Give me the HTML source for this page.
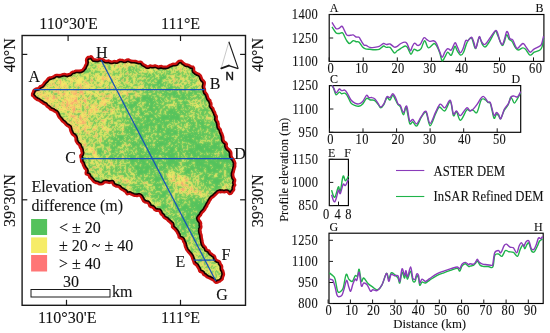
<!DOCTYPE html><html><head><meta charset="utf-8"><style>
html,body{margin:0;padding:0;background:#fff;width:550px;height:333px;overflow:hidden}
svg{display:block;will-change:transform}text{font-family:"Liberation Serif",serif;fill:#111;stroke:#111;stroke-width:0.1px}
</style></head><body>
<svg width="550" height="333" viewBox="0 0 550 333">
<defs>
<filter id="tex" filterUnits="userSpaceOnUse" x="10" y="38" width="250" height="262" color-interpolation-filters="sRGB">
<feGaussianBlur in="SourceGraphic" stdDeviation="4.5" result="bias"/>
<feTurbulence type="fractalNoise" baseFrequency="0.09" numOctaves="2" seed="11" result="lo0"/>
<feTurbulence type="fractalNoise" baseFrequency="0.45" numOctaves="2" seed="4" result="hi0"/>
<feComposite in="lo0" in2="hi0" operator="arithmetic" k1="0" k2="0.25" k3="0.75" k4="0" result="n1"/>
<feColorMatrix in="n1" type="matrix" values="1 0 0 0 0  1 0 0 0 0  1 0 0 0 0  0 0 0 0 1" result="n"/>
<feComposite in="bias" in2="n" operator="arithmetic" k1="0" k2="1" k3="2.4" k4="-1.2" result="s"/>
<feColorMatrix in="s" type="matrix" values="1 0 0 0 0  1 0 0 0 0  1 0 0 0 0  0 0 0 0 1" result="s2"/>
<feComponentTransfer in="s2" result="c">
<feFuncR type="table" tableValues="0.329 0.329 0.329 0.329 0.329 0.539 0.755 0.965 0.965 0.965 0.972 0.979 0.989"/>
<feFuncG type="table" tableValues="0.761 0.761 0.761 0.761 0.761 0.815 0.871 0.925 0.925 0.925 0.833 0.740 0.602"/>
<feFuncB type="table" tableValues="0.361 0.361 0.361 0.361 0.361 0.376 0.392 0.408 0.408 0.408 0.419 0.430 0.446"/>
</feComponentTransfer>
<feGaussianBlur in="c" stdDeviation="0.8" result="cb"/>
<feComposite in="c" in2="cb" operator="arithmetic" k1="0" k2="0.35" k3="0.65" k4="0"/>
</filter>
<clipPath id="mapclip"><polygon points="32.1,93.5 32.9,92.2 33.3,90.8 34.1,89.7 35.3,88.9 36.7,88.4 38.3,88.1 39.1,87.2 40.0,86.2 41.2,85.8 42.3,85.1 43.1,84.1 43.9,83.0 44.7,81.9 45.7,81.0 46.7,80.0 47.5,79.0 48.3,78.0 49.5,77.5 50.9,77.3 52.4,76.8 53.8,76.2 55.1,75.3 56.4,74.8 57.7,74.9 59.0,75.2 60.2,75.0 61.6,74.5 62.9,74.1 64.5,73.9 66.2,74.3 67.0,74.7 68.4,74.1 70.0,73.8 71.2,72.5 72.6,71.6 74.3,71.3 75.9,70.6 77.6,70.6 79.3,70.7 80.9,70.5 82.5,69.8 83.4,68.5 84.3,67.6 84.7,66.4 85.3,65.1 86.0,64.0 86.3,62.3 86.0,60.4 86.2,59.1 86.8,58.1 88.0,56.9 89.5,57.0 90.8,56.2 91.9,56.5 92.7,58.1 93.9,59.4 95.1,59.3 96.3,59.6 97.5,59.7 98.8,59.1 100.2,59.0 101.7,58.8 103.2,59.3 104.5,60.2 105.9,60.9 107.3,60.8 108.7,60.4 110.0,61.2 111.3,61.6 112.8,61.3 114.0,61.0 115.2,61.1 116.6,61.4 117.7,60.8 118.7,60.0 119.9,59.6 121.1,59.8 122.4,59.9 123.5,60.3 125.1,60.6 126.6,59.7 128.3,59.3 129.8,60.1 131.3,60.7 132.9,60.9 134.5,60.9 136.0,61.0 137.5,61.5 138.9,61.9 140.4,61.7 141.7,62.1 143.1,63.9 144.5,64.7 145.9,65.5 147.0,66.3 148.2,66.4 149.5,65.7 150.7,65.5 151.9,65.9 153.1,65.8 154.3,65.5 155.7,65.5 157.2,66.1 158.6,66.7 160.1,66.2 161.6,66.0 163.0,66.7 164.5,66.7 166.0,66.7 167.5,66.4 168.8,65.5 170.1,64.9 171.5,64.4 172.9,63.7 174.6,63.8 176.3,63.5 177.5,62.1 178.8,60.8 181.2,60.7 182.5,61.7 183.4,62.7 184.8,63.6 186.1,64.5 187.3,64.5 188.5,64.8 189.7,65.5 191.1,66.3 193.3,66.7 194.1,68.1 194.1,69.9 194.4,71.3 195.6,72.1 196.2,72.8 197.6,73.4 199.0,73.9 200.1,74.8 201.0,75.9 201.4,77.1 201.8,78.3 202.4,79.5 203.7,80.7 204.8,82.2 204.8,83.7 204.5,85.2 204.2,86.6 204.6,88.1 205.0,89.4 205.0,90.8 205.3,92.1 206.2,93.1 207.2,94.4 207.7,96.0 208.4,98.2 209.2,99.3 210.3,100.2 210.7,101.6 211.2,102.8 211.5,104.1 211.3,105.7 212.0,107.0 213.2,108.1 213.7,109.5 214.2,110.8 215.0,112.1 215.5,113.6 216.1,115.0 216.8,116.3 216.8,117.8 216.6,119.3 217.3,120.6 218.2,121.9 218.4,123.3 218.7,124.5 218.8,125.9 219.0,127.1 219.7,128.2 220.7,129.2 221.0,130.5 221.3,131.8 222.1,133.2 222.6,134.7 223.1,136.1 223.4,137.5 223.4,139.0 223.7,140.5 224.6,141.7 226.2,142.7 226.9,144.0 226.6,145.9 227.1,147.4 228.2,148.6 229.3,149.5 230.3,150.5 231.1,151.8 231.4,153.1 231.4,154.6 231.5,156.0 232.0,157.2 232.8,158.2 233.6,159.1 234.3,160.4 234.9,161.8 235.4,163.2 235.2,164.9 235.3,166.5 234.8,167.8 234.5,169.2 234.1,170.5 233.8,172.0 233.3,173.4 233.2,175.1 233.5,176.3 233.7,177.5 234.5,178.7 235.2,179.9 235.1,181.2 234.6,182.5 234.9,183.7 235.3,185.1 234.4,186.5 234.0,187.9 234.2,189.7 233.6,190.7 232.7,191.6 232.1,192.8 230.9,193.8 229.2,194.1 228.2,192.8 227.2,191.9 225.9,191.9 224.4,192.3 223.1,192.1 222.0,191.9 220.5,192.4 219.9,191.8 218.3,192.3 217.3,193.3 216.3,194.3 215.2,195.2 214.2,196.3 213.0,197.2 211.7,198.0 211.0,199.2 210.2,200.3 209.5,201.5 209.0,202.7 208.2,203.8 207.5,205.0 207.2,206.2 206.4,207.2 205.7,208.4 205.2,209.6 204.4,210.6 203.4,211.7 202.3,212.7 201.5,213.9 200.9,215.3 199.7,216.5 198.6,218.2 199.0,219.6 199.8,220.7 200.7,222.0 201.2,223.4 201.0,224.9 201.4,226.3 201.3,227.7 200.6,229.0 200.5,230.5 200.6,231.8 200.9,233.2 201.5,234.6 201.7,236.0 201.8,237.5 202.2,239.2 202.4,240.8 202.7,242.2 203.0,243.6 203.6,244.9 204.3,246.0 205.4,246.7 206.1,248.0 206.5,249.4 207.8,250.0 209.2,250.6 209.9,252.1 210.8,253.2 212.1,254.0 213.0,254.9 214.3,255.5 215.1,256.6 215.4,257.9 216.0,259.4 217.3,260.4 219.2,261.0 220.1,262.0 220.4,263.3 221.1,264.4 221.9,265.5 222.2,266.8 222.1,268.2 222.3,269.5 223.1,270.3 223.5,271.8 223.9,273.3 224.0,274.8 223.4,276.3 222.9,277.7 222.7,279.2 221.7,280.1 220.6,280.9 220.0,281.6 218.4,281.9 217.6,282.7 215.8,282.8 214.6,282.1 213.9,280.7 212.6,279.9 211.2,279.4 210.0,278.6 208.6,278.0 207.3,277.5 206.0,276.6 205.2,275.7 204.1,275.2 203.1,274.5 202.6,273.2 201.6,272.4 200.1,272.0 199.2,270.9 198.8,269.5 198.1,268.1 197.3,266.8 196.5,265.5 195.3,264.5 194.0,263.6 193.5,262.2 193.1,260.7 192.5,259.5 192.1,258.1 191.6,256.7 190.8,255.4 190.0,254.3 189.1,253.3 188.2,252.3 187.5,251.3 186.6,250.3 186.0,249.2 185.6,248.1 185.1,247.0 184.8,246.0 184.5,244.4 184.0,242.9 183.2,241.7 182.9,240.4 182.3,239.2 181.2,238.5 179.7,238.1 178.7,237.3 178.5,235.9 178.1,234.7 177.4,233.5 176.8,232.2 176.0,231.0 175.1,229.9 174.1,228.9 173.0,228.0 172.0,226.9 172.1,225.4 171.8,224.0 170.7,223.3 169.9,222.3 168.9,221.5 167.9,220.8 166.9,219.6 165.6,218.8 164.3,218.1 163.3,216.9 162.6,215.7 161.6,214.8 160.6,213.9 160.1,212.4 159.3,211.0 158.0,210.8 156.5,210.8 155.3,210.4 154.3,209.7 153.7,208.5 152.5,207.5 150.8,207.1 149.4,206.2 148.8,204.4 147.8,203.0 146.4,202.7 144.8,202.3 143.4,201.3 142.5,199.8 141.7,198.2 140.8,196.6 139.6,195.7 138.2,195.7 137.0,196.2 135.7,195.9 134.5,195.9 133.3,195.4 132.2,194.9 131.1,194.5 130.0,193.8 128.7,193.9 127.0,194.3 126.1,193.1 125.3,191.7 124.1,191.1 123.1,190.3 121.9,189.7 120.4,188.8 119.1,187.2 117.6,186.7 116.0,186.6 114.9,185.9 113.6,185.3 112.8,184.0 112.2,182.4 110.7,182.6 109.2,183.0 108.0,182.7 106.7,182.3 105.4,182.2 104.3,182.6 103.2,183.6 102.1,184.1 100.9,184.4 99.5,184.4 98.7,184.1 97.4,183.2 96.1,183.1 94.7,182.5 93.5,181.7 92.6,180.7 91.6,179.5 90.5,178.4 89.4,177.5 88.9,176.3 88.4,175.1 87.0,174.7 85.8,174.2 85.6,172.7 86.2,171.0 85.8,169.6 84.6,168.4 83.9,167.1 83.4,166.0 82.9,164.9 82.6,163.7 81.9,162.6 81.1,161.5 81.0,160.0 80.9,158.5 80.4,157.2 80.3,155.5 81.5,154.2 81.9,152.8 81.4,151.3 81.3,150.0 80.9,148.7 80.1,147.7 79.6,146.5 79.3,145.2 78.2,144.4 77.2,143.5 76.6,142.4 75.9,141.3 75.5,140.0 75.5,138.4 75.1,137.0 74.2,135.9 72.9,135.1 71.8,134.0 71.1,132.5 70.4,131.0 70.0,129.3 69.6,127.5 68.3,126.5 66.8,125.7 65.6,124.7 64.7,123.4 63.5,122.3 62.1,121.4 61.2,120.1 60.2,118.8 59.0,117.6 58.2,116.4 57.5,114.8 56.8,113.1 55.9,112.2 54.8,111.7 53.7,111.0 52.7,110.3 51.4,109.9 50.2,109.5 49.3,108.3 48.3,107.5 46.8,106.6 45.8,105.2 44.9,104.3 43.5,104.0 42.7,103.2 41.3,102.3 39.9,101.4 38.4,100.4 36.8,99.8 35.4,98.8 34.2,97.7 33.2,96.4 32.0,95.5"/></clipPath>
</defs>
<rect x="22.1" y="35.5" width="223.4" height="269.8" fill="none" stroke="#1a1a1a" stroke-width="1.4"/>
<line x1="68.1" y1="35.5" x2="68.1" y2="41" stroke="#1a1a1a" stroke-width="1.2"/>
<line x1="180.5" y1="35.5" x2="180.5" y2="41" stroke="#1a1a1a" stroke-width="1.2"/>
<line x1="66.5" y1="305.3" x2="66.5" y2="299.8" stroke="#1a1a1a" stroke-width="1.2"/>
<line x1="180.5" y1="305.3" x2="180.5" y2="299.8" stroke="#1a1a1a" stroke-width="1.2"/>
<line x1="22.1" y1="54.4" x2="27.3" y2="54.4" stroke="#1a1a1a" stroke-width="1.2"/>
<line x1="245.5" y1="54.4" x2="240.1" y2="54.4" stroke="#1a1a1a" stroke-width="1.2"/>
<line x1="22.1" y1="199.8" x2="27.3" y2="199.8" stroke="#1a1a1a" stroke-width="1.2"/>
<line x1="245.5" y1="199.8" x2="240.1" y2="199.8" stroke="#1a1a1a" stroke-width="1.2"/>
<text x="68.5" y="29" font-size="16" text-anchor="middle" >110°30'E</text>
<text x="180.6" y="29" font-size="16" text-anchor="middle" >111°E</text>
<text x="67.2" y="323.2" font-size="16" text-anchor="middle" >110°30'E</text>
<text x="180.6" y="323.2" font-size="16" text-anchor="middle" >111°E</text>
<text transform="translate(15,55.3) rotate(-90)" font-size="16" text-anchor="middle">40°N</text>
<text transform="translate(15,200.5) rotate(-90)" font-size="16" text-anchor="middle">39°30'N</text>
<text transform="translate(263.2,55) rotate(-90)" font-size="16" text-anchor="middle">40°N</text>
<text transform="translate(263.2,200.8) rotate(-90)" font-size="16" text-anchor="middle">39°30'N</text>
<g>
<g clip-path="url(#mapclip)">
<g filter="url(#tex)">
<rect x="0" y="30" width="270" height="290" fill="rgb(69,69,69)"/>
<polygon points="90.0,55.0 110.0,55.0 110.0,75.0 90.0,75.0" fill="rgb(156,156,156)"/>
<polygon points="110.0,55.0 130.0,55.0 130.0,75.0 110.0,75.0" fill="rgb(147,147,147)"/>
<polygon points="30.0,75.0 50.0,75.0 50.0,95.0 30.0,95.0" fill="rgb(178,178,178)"/>
<polygon points="50.0,75.0 70.0,75.0 70.0,95.0 50.0,95.0" fill="rgb(178,178,178)"/>
<polygon points="70.0,75.0 90.0,75.0 90.0,95.0 70.0,95.0" fill="rgb(176,176,176)"/>
<polygon points="90.0,75.0 110.0,75.0 110.0,95.0 90.0,95.0" fill="rgb(158,158,158)"/>
<polygon points="110.0,75.0 130.0,75.0 130.0,95.0 110.0,95.0" fill="rgb(135,135,135)"/>
<polygon points="30.0,95.0 50.0,95.0 50.0,115.0 30.0,115.0" fill="rgb(178,178,178)"/>
<polygon points="50.0,95.0 70.0,95.0 70.0,115.0 50.0,115.0" fill="rgb(178,178,178)"/>
<polygon points="70.0,95.0 90.0,95.0 90.0,115.0 70.0,115.0" fill="rgb(178,178,178)"/>
<polygon points="90.0,95.0 110.0,95.0 110.0,115.0 90.0,115.0" fill="rgb(153,153,153)"/>
<polygon points="110.0,95.0 130.0,95.0 130.0,115.0 110.0,115.0" fill="rgb(120,120,120)"/>
<polygon points="50.0,115.0 70.0,115.0 70.0,135.0 50.0,135.0" fill="rgb(178,178,178)"/>
<polygon points="70.0,115.0 90.0,115.0 90.0,135.0 70.0,135.0" fill="rgb(168,168,168)"/>
<polygon points="90.0,115.0 110.0,115.0 110.0,135.0 90.0,135.0" fill="rgb(135,135,135)"/>
<polygon points="110.0,115.0 130.0,115.0 130.0,135.0 110.0,135.0" fill="rgb(102,102,102)"/>
<polygon points="70.0,135.0 90.0,135.0 90.0,155.0 70.0,155.0" fill="rgb(150,150,150)"/>
<polygon points="90.0,135.0 110.0,135.0 110.0,155.0 90.0,155.0" fill="rgb(109,109,109)"/>
<polygon points="110.0,135.0 130.0,135.0 130.0,155.0 110.0,155.0" fill="rgb(76,76,76)"/>
<polygon points="130.0,55.0 150.0,55.0 150.0,75.0 130.0,75.0" fill="rgb(135,135,135)"/>
<polygon points="150.0,55.0 170.0,55.0 170.0,75.0 150.0,75.0" fill="rgb(132,132,132)"/>
<polygon points="170.0,55.0 190.0,55.0 190.0,75.0 170.0,75.0" fill="rgb(139,139,139)"/>
<polygon points="190.0,55.0 210.0,55.0 210.0,75.0 190.0,75.0" fill="rgb(147,147,147)"/>
<polygon points="130.0,75.0 150.0,75.0 150.0,95.0 130.0,95.0" fill="rgb(109,109,109)"/>
<polygon points="150.0,75.0 170.0,75.0 170.0,95.0 150.0,95.0" fill="rgb(88,88,88)"/>
<polygon points="170.0,75.0 190.0,75.0 190.0,95.0 170.0,95.0" fill="rgb(102,102,102)"/>
<polygon points="190.0,75.0 210.0,75.0 210.0,95.0 190.0,95.0" fill="rgb(135,135,135)"/>
<polygon points="130.0,95.0 150.0,95.0 150.0,115.0 130.0,115.0" fill="rgb(75,75,75)"/>
<polygon points="150.0,95.0 170.0,95.0 170.0,115.0 150.0,115.0" fill="rgb(71,71,71)"/>
<polygon points="170.0,95.0 190.0,95.0 190.0,115.0 170.0,115.0" fill="rgb(75,75,75)"/>
<polygon points="190.0,95.0 210.0,95.0 210.0,115.0 190.0,115.0" fill="rgb(98,98,98)"/>
<polygon points="210.0,95.0 230.0,95.0 230.0,115.0 210.0,115.0" fill="rgb(116,116,116)"/>
<polygon points="130.0,115.0 150.0,115.0 150.0,135.0 130.0,135.0" fill="rgb(67,67,67)"/>
<polygon points="150.0,115.0 170.0,115.0 170.0,135.0 150.0,135.0" fill="rgb(67,67,67)"/>
<polygon points="170.0,115.0 190.0,115.0 190.0,135.0 170.0,135.0" fill="rgb(67,67,67)"/>
<polygon points="190.0,115.0 210.0,115.0 210.0,135.0 190.0,135.0" fill="rgb(76,76,76)"/>
<polygon points="210.0,115.0 230.0,115.0 230.0,135.0 210.0,135.0" fill="rgb(88,88,88)"/>
<polygon points="130.0,135.0 150.0,135.0 150.0,155.0 130.0,155.0" fill="rgb(67,67,67)"/>
<polygon points="150.0,135.0 170.0,135.0 170.0,155.0 150.0,155.0" fill="rgb(64,64,64)"/>
<polygon points="170.0,135.0 190.0,135.0 190.0,155.0 170.0,155.0" fill="rgb(64,64,64)"/>
<polygon points="190.0,135.0 210.0,135.0 210.0,155.0 190.0,155.0" fill="rgb(67,67,67)"/>
<polygon points="210.0,135.0 230.0,135.0 230.0,155.0 210.0,155.0" fill="rgb(78,78,78)"/>
<polygon points="70.0,155.0 90.0,155.0 90.0,175.0 70.0,175.0" fill="rgb(132,132,132)"/>
<polygon points="90.0,155.0 110.0,155.0 110.0,175.0 90.0,175.0" fill="rgb(124,124,124)"/>
<polygon points="110.0,155.0 130.0,155.0 130.0,175.0 110.0,175.0" fill="rgb(105,105,105)"/>
<polygon points="130.0,155.0 150.0,155.0 150.0,175.0 130.0,175.0" fill="rgb(76,76,76)"/>
<polygon points="150.0,155.0 170.0,155.0 170.0,175.0 150.0,175.0" fill="rgb(38,38,38)"/>
<polygon points="170.0,155.0 190.0,155.0 190.0,175.0 170.0,175.0" fill="rgb(56,56,56)"/>
<polygon points="190.0,155.0 210.0,155.0 210.0,175.0 190.0,175.0" fill="rgb(48,48,48)"/>
<polygon points="210.0,155.0 230.0,155.0 230.0,175.0 210.0,175.0" fill="rgb(54,54,54)"/>
<polygon points="230.0,155.0 250.0,155.0 250.0,175.0 230.0,175.0" fill="rgb(71,71,71)"/>
<polygon points="90.0,175.0 110.0,175.0 110.0,195.0 90.0,195.0" fill="rgb(129,129,129)"/>
<polygon points="110.0,175.0 130.0,175.0 130.0,195.0 110.0,195.0" fill="rgb(120,120,120)"/>
<polygon points="130.0,175.0 150.0,175.0 150.0,195.0 130.0,195.0" fill="rgb(102,102,102)"/>
<polygon points="150.0,175.0 170.0,175.0 170.0,195.0 150.0,195.0" fill="rgb(76,76,76)"/>
<polygon points="170.0,175.0 190.0,175.0 190.0,195.0 170.0,195.0" fill="rgb(116,116,116)"/>
<polygon points="190.0,175.0 210.0,175.0 210.0,195.0 190.0,195.0" fill="rgb(116,116,116)"/>
<polygon points="210.0,175.0 230.0,175.0 230.0,195.0 210.0,195.0" fill="rgb(76,76,76)"/>
<polygon points="230.0,175.0 250.0,175.0 250.0,195.0 230.0,195.0" fill="rgb(93,93,93)"/>
<polygon points="130.0,195.0 150.0,195.0 150.0,215.0 130.0,215.0" fill="rgb(109,109,109)"/>
<polygon points="150.0,195.0 170.0,195.0 170.0,215.0 150.0,215.0" fill="rgb(102,102,102)"/>
<polygon points="170.0,195.0 190.0,195.0 190.0,215.0 170.0,215.0" fill="rgb(93,93,93)"/>
<polygon points="190.0,195.0 210.0,195.0 210.0,215.0 190.0,215.0" fill="rgb(76,76,76)"/>
<polygon points="210.0,195.0 230.0,195.0 230.0,215.0 210.0,215.0" fill="rgb(93,93,93)"/>
<polygon points="150.0,215.0 170.0,215.0 170.0,235.0 150.0,235.0" fill="rgb(124,124,124)"/>
<polygon points="170.0,215.0 190.0,215.0 190.0,235.0 170.0,235.0" fill="rgb(93,93,93)"/>
<polygon points="190.0,215.0 210.0,215.0 210.0,235.0 190.0,235.0" fill="rgb(48,48,48)"/>
<polygon points="170.0,235.0 190.0,235.0 190.0,255.0 170.0,255.0" fill="rgb(132,132,132)"/>
<polygon points="190.0,235.0 210.0,235.0 210.0,255.0 190.0,255.0" fill="rgb(102,102,102)"/>
<polygon points="190.0,255.0 210.0,255.0 210.0,275.0 190.0,275.0" fill="rgb(139,139,139)"/>
<polygon points="210.0,255.0 230.0,255.0 230.0,275.0 210.0,275.0" fill="rgb(132,132,132)"/>
<polygon points="190.0,275.0 210.0,275.0 210.0,295.0 190.0,295.0" fill="rgb(147,147,147)"/>
<polygon points="210.0,275.0 230.0,275.0 230.0,295.0 210.0,295.0" fill="rgb(147,147,147)"/>
<ellipse cx="183" cy="182" rx="22" ry="8" transform="rotate(38 183 182)" fill="rgb(168,168,168)"/>
<ellipse cx="212" cy="165" rx="18" ry="7" transform="rotate(0 212 165)" fill="rgb(31,31,31)"/>
<ellipse cx="196" cy="207" rx="12" ry="5" transform="rotate(0 196 207)" fill="rgb(43,43,43)"/>
<ellipse cx="153" cy="157" rx="12" ry="6" transform="rotate(0 153 157)" fill="rgb(23,23,23)"/>
<ellipse cx="115" cy="175" rx="18" ry="7" transform="rotate(15 115 175)" fill="rgb(135,135,135)"/>
<ellipse cx="60" cy="90" rx="22" ry="10" transform="rotate(-25 60 90)" fill="rgb(178,178,178)"/>
<ellipse cx="193" cy="212" rx="9" ry="14" transform="rotate(10 193 212)" fill="rgb(27,27,27)"/>
<ellipse cx="227" cy="185" rx="6" ry="6" transform="rotate(0 227 185)" fill="rgb(168,168,168)"/>
</g>
</g>
<polygon points="32.1,93.5 32.9,92.2 33.3,90.8 34.1,89.7 35.3,88.9 36.7,88.4 38.3,88.1 39.1,87.2 40.0,86.2 41.2,85.8 42.3,85.1 43.1,84.1 43.9,83.0 44.7,81.9 45.7,81.0 46.7,80.0 47.5,79.0 48.3,78.0 49.5,77.5 50.9,77.3 52.4,76.8 53.8,76.2 55.1,75.3 56.4,74.8 57.7,74.9 59.0,75.2 60.2,75.0 61.6,74.5 62.9,74.1 64.5,73.9 66.2,74.3 67.0,74.7 68.4,74.1 70.0,73.8 71.2,72.5 72.6,71.6 74.3,71.3 75.9,70.6 77.6,70.6 79.3,70.7 80.9,70.5 82.5,69.8 83.4,68.5 84.3,67.6 84.7,66.4 85.3,65.1 86.0,64.0 86.3,62.3 86.0,60.4 86.2,59.1 86.8,58.1 88.0,56.9 89.5,57.0 90.8,56.2 91.9,56.5 92.7,58.1 93.9,59.4 95.1,59.3 96.3,59.6 97.5,59.7 98.8,59.1 100.2,59.0 101.7,58.8 103.2,59.3 104.5,60.2 105.9,60.9 107.3,60.8 108.7,60.4 110.0,61.2 111.3,61.6 112.8,61.3 114.0,61.0 115.2,61.1 116.6,61.4 117.7,60.8 118.7,60.0 119.9,59.6 121.1,59.8 122.4,59.9 123.5,60.3 125.1,60.6 126.6,59.7 128.3,59.3 129.8,60.1 131.3,60.7 132.9,60.9 134.5,60.9 136.0,61.0 137.5,61.5 138.9,61.9 140.4,61.7 141.7,62.1 143.1,63.9 144.5,64.7 145.9,65.5 147.0,66.3 148.2,66.4 149.5,65.7 150.7,65.5 151.9,65.9 153.1,65.8 154.3,65.5 155.7,65.5 157.2,66.1 158.6,66.7 160.1,66.2 161.6,66.0 163.0,66.7 164.5,66.7 166.0,66.7 167.5,66.4 168.8,65.5 170.1,64.9 171.5,64.4 172.9,63.7 174.6,63.8 176.3,63.5 177.5,62.1 178.8,60.8 181.2,60.7 182.5,61.7 183.4,62.7 184.8,63.6 186.1,64.5 187.3,64.5 188.5,64.8 189.7,65.5 191.1,66.3 193.3,66.7 194.1,68.1 194.1,69.9 194.4,71.3 195.6,72.1 196.2,72.8 197.6,73.4 199.0,73.9 200.1,74.8 201.0,75.9 201.4,77.1 201.8,78.3 202.4,79.5 203.7,80.7 204.8,82.2 204.8,83.7 204.5,85.2 204.2,86.6 204.6,88.1 205.0,89.4 205.0,90.8 205.3,92.1 206.2,93.1 207.2,94.4 207.7,96.0 208.4,98.2 209.2,99.3 210.3,100.2 210.7,101.6 211.2,102.8 211.5,104.1 211.3,105.7 212.0,107.0 213.2,108.1 213.7,109.5 214.2,110.8 215.0,112.1 215.5,113.6 216.1,115.0 216.8,116.3 216.8,117.8 216.6,119.3 217.3,120.6 218.2,121.9 218.4,123.3 218.7,124.5 218.8,125.9 219.0,127.1 219.7,128.2 220.7,129.2 221.0,130.5 221.3,131.8 222.1,133.2 222.6,134.7 223.1,136.1 223.4,137.5 223.4,139.0 223.7,140.5 224.6,141.7 226.2,142.7 226.9,144.0 226.6,145.9 227.1,147.4 228.2,148.6 229.3,149.5 230.3,150.5 231.1,151.8 231.4,153.1 231.4,154.6 231.5,156.0 232.0,157.2 232.8,158.2 233.6,159.1 234.3,160.4 234.9,161.8 235.4,163.2 235.2,164.9 235.3,166.5 234.8,167.8 234.5,169.2 234.1,170.5 233.8,172.0 233.3,173.4 233.2,175.1 233.5,176.3 233.7,177.5 234.5,178.7 235.2,179.9 235.1,181.2 234.6,182.5 234.9,183.7 235.3,185.1 234.4,186.5 234.0,187.9 234.2,189.7 233.6,190.7 232.7,191.6 232.1,192.8 230.9,193.8 229.2,194.1 228.2,192.8 227.2,191.9 225.9,191.9 224.4,192.3 223.1,192.1 222.0,191.9 220.5,192.4 219.9,191.8 218.3,192.3 217.3,193.3 216.3,194.3 215.2,195.2 214.2,196.3 213.0,197.2 211.7,198.0 211.0,199.2 210.2,200.3 209.5,201.5 209.0,202.7 208.2,203.8 207.5,205.0 207.2,206.2 206.4,207.2 205.7,208.4 205.2,209.6 204.4,210.6 203.4,211.7 202.3,212.7 201.5,213.9 200.9,215.3 199.7,216.5 198.6,218.2 199.0,219.6 199.8,220.7 200.7,222.0 201.2,223.4 201.0,224.9 201.4,226.3 201.3,227.7 200.6,229.0 200.5,230.5 200.6,231.8 200.9,233.2 201.5,234.6 201.7,236.0 201.8,237.5 202.2,239.2 202.4,240.8 202.7,242.2 203.0,243.6 203.6,244.9 204.3,246.0 205.4,246.7 206.1,248.0 206.5,249.4 207.8,250.0 209.2,250.6 209.9,252.1 210.8,253.2 212.1,254.0 213.0,254.9 214.3,255.5 215.1,256.6 215.4,257.9 216.0,259.4 217.3,260.4 219.2,261.0 220.1,262.0 220.4,263.3 221.1,264.4 221.9,265.5 222.2,266.8 222.1,268.2 222.3,269.5 223.1,270.3 223.5,271.8 223.9,273.3 224.0,274.8 223.4,276.3 222.9,277.7 222.7,279.2 221.7,280.1 220.6,280.9 220.0,281.6 218.4,281.9 217.6,282.7 215.8,282.8 214.6,282.1 213.9,280.7 212.6,279.9 211.2,279.4 210.0,278.6 208.6,278.0 207.3,277.5 206.0,276.6 205.2,275.7 204.1,275.2 203.1,274.5 202.6,273.2 201.6,272.4 200.1,272.0 199.2,270.9 198.8,269.5 198.1,268.1 197.3,266.8 196.5,265.5 195.3,264.5 194.0,263.6 193.5,262.2 193.1,260.7 192.5,259.5 192.1,258.1 191.6,256.7 190.8,255.4 190.0,254.3 189.1,253.3 188.2,252.3 187.5,251.3 186.6,250.3 186.0,249.2 185.6,248.1 185.1,247.0 184.8,246.0 184.5,244.4 184.0,242.9 183.2,241.7 182.9,240.4 182.3,239.2 181.2,238.5 179.7,238.1 178.7,237.3 178.5,235.9 178.1,234.7 177.4,233.5 176.8,232.2 176.0,231.0 175.1,229.9 174.1,228.9 173.0,228.0 172.0,226.9 172.1,225.4 171.8,224.0 170.7,223.3 169.9,222.3 168.9,221.5 167.9,220.8 166.9,219.6 165.6,218.8 164.3,218.1 163.3,216.9 162.6,215.7 161.6,214.8 160.6,213.9 160.1,212.4 159.3,211.0 158.0,210.8 156.5,210.8 155.3,210.4 154.3,209.7 153.7,208.5 152.5,207.5 150.8,207.1 149.4,206.2 148.8,204.4 147.8,203.0 146.4,202.7 144.8,202.3 143.4,201.3 142.5,199.8 141.7,198.2 140.8,196.6 139.6,195.7 138.2,195.7 137.0,196.2 135.7,195.9 134.5,195.9 133.3,195.4 132.2,194.9 131.1,194.5 130.0,193.8 128.7,193.9 127.0,194.3 126.1,193.1 125.3,191.7 124.1,191.1 123.1,190.3 121.9,189.7 120.4,188.8 119.1,187.2 117.6,186.7 116.0,186.6 114.9,185.9 113.6,185.3 112.8,184.0 112.2,182.4 110.7,182.6 109.2,183.0 108.0,182.7 106.7,182.3 105.4,182.2 104.3,182.6 103.2,183.6 102.1,184.1 100.9,184.4 99.5,184.4 98.7,184.1 97.4,183.2 96.1,183.1 94.7,182.5 93.5,181.7 92.6,180.7 91.6,179.5 90.5,178.4 89.4,177.5 88.9,176.3 88.4,175.1 87.0,174.7 85.8,174.2 85.6,172.7 86.2,171.0 85.8,169.6 84.6,168.4 83.9,167.1 83.4,166.0 82.9,164.9 82.6,163.7 81.9,162.6 81.1,161.5 81.0,160.0 80.9,158.5 80.4,157.2 80.3,155.5 81.5,154.2 81.9,152.8 81.4,151.3 81.3,150.0 80.9,148.7 80.1,147.7 79.6,146.5 79.3,145.2 78.2,144.4 77.2,143.5 76.6,142.4 75.9,141.3 75.5,140.0 75.5,138.4 75.1,137.0 74.2,135.9 72.9,135.1 71.8,134.0 71.1,132.5 70.4,131.0 70.0,129.3 69.6,127.5 68.3,126.5 66.8,125.7 65.6,124.7 64.7,123.4 63.5,122.3 62.1,121.4 61.2,120.1 60.2,118.8 59.0,117.6 58.2,116.4 57.5,114.8 56.8,113.1 55.9,112.2 54.8,111.7 53.7,111.0 52.7,110.3 51.4,109.9 50.2,109.5 49.3,108.3 48.3,107.5 46.8,106.6 45.8,105.2 44.9,104.3 43.5,104.0 42.7,103.2 41.3,102.3 39.9,101.4 38.4,100.4 36.8,99.8 35.4,98.8 34.2,97.7 33.2,96.4 32.0,95.5" fill="none" stroke="#140000" stroke-width="5.4" stroke-linejoin="round" clip-path="url(#mapclip)"/>
<polygon points="32.1,93.5 32.9,92.2 33.3,90.8 34.1,89.7 35.3,88.9 36.7,88.4 38.3,88.1 39.1,87.2 40.0,86.2 41.2,85.8 42.3,85.1 43.1,84.1 43.9,83.0 44.7,81.9 45.7,81.0 46.7,80.0 47.5,79.0 48.3,78.0 49.5,77.5 50.9,77.3 52.4,76.8 53.8,76.2 55.1,75.3 56.4,74.8 57.7,74.9 59.0,75.2 60.2,75.0 61.6,74.5 62.9,74.1 64.5,73.9 66.2,74.3 67.0,74.7 68.4,74.1 70.0,73.8 71.2,72.5 72.6,71.6 74.3,71.3 75.9,70.6 77.6,70.6 79.3,70.7 80.9,70.5 82.5,69.8 83.4,68.5 84.3,67.6 84.7,66.4 85.3,65.1 86.0,64.0 86.3,62.3 86.0,60.4 86.2,59.1 86.8,58.1 88.0,56.9 89.5,57.0 90.8,56.2 91.9,56.5 92.7,58.1 93.9,59.4 95.1,59.3 96.3,59.6 97.5,59.7 98.8,59.1 100.2,59.0 101.7,58.8 103.2,59.3 104.5,60.2 105.9,60.9 107.3,60.8 108.7,60.4 110.0,61.2 111.3,61.6 112.8,61.3 114.0,61.0 115.2,61.1 116.6,61.4 117.7,60.8 118.7,60.0 119.9,59.6 121.1,59.8 122.4,59.9 123.5,60.3 125.1,60.6 126.6,59.7 128.3,59.3 129.8,60.1 131.3,60.7 132.9,60.9 134.5,60.9 136.0,61.0 137.5,61.5 138.9,61.9 140.4,61.7 141.7,62.1 143.1,63.9 144.5,64.7 145.9,65.5 147.0,66.3 148.2,66.4 149.5,65.7 150.7,65.5 151.9,65.9 153.1,65.8 154.3,65.5 155.7,65.5 157.2,66.1 158.6,66.7 160.1,66.2 161.6,66.0 163.0,66.7 164.5,66.7 166.0,66.7 167.5,66.4 168.8,65.5 170.1,64.9 171.5,64.4 172.9,63.7 174.6,63.8 176.3,63.5 177.5,62.1 178.8,60.8 181.2,60.7 182.5,61.7 183.4,62.7 184.8,63.6 186.1,64.5 187.3,64.5 188.5,64.8 189.7,65.5 191.1,66.3 193.3,66.7 194.1,68.1 194.1,69.9 194.4,71.3 195.6,72.1 196.2,72.8 197.6,73.4 199.0,73.9 200.1,74.8 201.0,75.9 201.4,77.1 201.8,78.3 202.4,79.5 203.7,80.7 204.8,82.2 204.8,83.7 204.5,85.2 204.2,86.6 204.6,88.1 205.0,89.4 205.0,90.8 205.3,92.1 206.2,93.1 207.2,94.4 207.7,96.0 208.4,98.2 209.2,99.3 210.3,100.2 210.7,101.6 211.2,102.8 211.5,104.1 211.3,105.7 212.0,107.0 213.2,108.1 213.7,109.5 214.2,110.8 215.0,112.1 215.5,113.6 216.1,115.0 216.8,116.3 216.8,117.8 216.6,119.3 217.3,120.6 218.2,121.9 218.4,123.3 218.7,124.5 218.8,125.9 219.0,127.1 219.7,128.2 220.7,129.2 221.0,130.5 221.3,131.8 222.1,133.2 222.6,134.7 223.1,136.1 223.4,137.5 223.4,139.0 223.7,140.5 224.6,141.7 226.2,142.7 226.9,144.0 226.6,145.9 227.1,147.4 228.2,148.6 229.3,149.5 230.3,150.5 231.1,151.8 231.4,153.1 231.4,154.6 231.5,156.0 232.0,157.2 232.8,158.2 233.6,159.1 234.3,160.4 234.9,161.8 235.4,163.2 235.2,164.9 235.3,166.5 234.8,167.8 234.5,169.2 234.1,170.5 233.8,172.0 233.3,173.4 233.2,175.1 233.5,176.3 233.7,177.5 234.5,178.7 235.2,179.9 235.1,181.2 234.6,182.5 234.9,183.7 235.3,185.1 234.4,186.5 234.0,187.9 234.2,189.7 233.6,190.7 232.7,191.6 232.1,192.8 230.9,193.8 229.2,194.1 228.2,192.8 227.2,191.9 225.9,191.9 224.4,192.3 223.1,192.1 222.0,191.9 220.5,192.4 219.9,191.8 218.3,192.3 217.3,193.3 216.3,194.3 215.2,195.2 214.2,196.3 213.0,197.2 211.7,198.0 211.0,199.2 210.2,200.3 209.5,201.5 209.0,202.7 208.2,203.8 207.5,205.0 207.2,206.2 206.4,207.2 205.7,208.4 205.2,209.6 204.4,210.6 203.4,211.7 202.3,212.7 201.5,213.9 200.9,215.3 199.7,216.5 198.6,218.2 199.0,219.6 199.8,220.7 200.7,222.0 201.2,223.4 201.0,224.9 201.4,226.3 201.3,227.7 200.6,229.0 200.5,230.5 200.6,231.8 200.9,233.2 201.5,234.6 201.7,236.0 201.8,237.5 202.2,239.2 202.4,240.8 202.7,242.2 203.0,243.6 203.6,244.9 204.3,246.0 205.4,246.7 206.1,248.0 206.5,249.4 207.8,250.0 209.2,250.6 209.9,252.1 210.8,253.2 212.1,254.0 213.0,254.9 214.3,255.5 215.1,256.6 215.4,257.9 216.0,259.4 217.3,260.4 219.2,261.0 220.1,262.0 220.4,263.3 221.1,264.4 221.9,265.5 222.2,266.8 222.1,268.2 222.3,269.5 223.1,270.3 223.5,271.8 223.9,273.3 224.0,274.8 223.4,276.3 222.9,277.7 222.7,279.2 221.7,280.1 220.6,280.9 220.0,281.6 218.4,281.9 217.6,282.7 215.8,282.8 214.6,282.1 213.9,280.7 212.6,279.9 211.2,279.4 210.0,278.6 208.6,278.0 207.3,277.5 206.0,276.6 205.2,275.7 204.1,275.2 203.1,274.5 202.6,273.2 201.6,272.4 200.1,272.0 199.2,270.9 198.8,269.5 198.1,268.1 197.3,266.8 196.5,265.5 195.3,264.5 194.0,263.6 193.5,262.2 193.1,260.7 192.5,259.5 192.1,258.1 191.6,256.7 190.8,255.4 190.0,254.3 189.1,253.3 188.2,252.3 187.5,251.3 186.6,250.3 186.0,249.2 185.6,248.1 185.1,247.0 184.8,246.0 184.5,244.4 184.0,242.9 183.2,241.7 182.9,240.4 182.3,239.2 181.2,238.5 179.7,238.1 178.7,237.3 178.5,235.9 178.1,234.7 177.4,233.5 176.8,232.2 176.0,231.0 175.1,229.9 174.1,228.9 173.0,228.0 172.0,226.9 172.1,225.4 171.8,224.0 170.7,223.3 169.9,222.3 168.9,221.5 167.9,220.8 166.9,219.6 165.6,218.8 164.3,218.1 163.3,216.9 162.6,215.7 161.6,214.8 160.6,213.9 160.1,212.4 159.3,211.0 158.0,210.8 156.5,210.8 155.3,210.4 154.3,209.7 153.7,208.5 152.5,207.5 150.8,207.1 149.4,206.2 148.8,204.4 147.8,203.0 146.4,202.7 144.8,202.3 143.4,201.3 142.5,199.8 141.7,198.2 140.8,196.6 139.6,195.7 138.2,195.7 137.0,196.2 135.7,195.9 134.5,195.9 133.3,195.4 132.2,194.9 131.1,194.5 130.0,193.8 128.7,193.9 127.0,194.3 126.1,193.1 125.3,191.7 124.1,191.1 123.1,190.3 121.9,189.7 120.4,188.8 119.1,187.2 117.6,186.7 116.0,186.6 114.9,185.9 113.6,185.3 112.8,184.0 112.2,182.4 110.7,182.6 109.2,183.0 108.0,182.7 106.7,182.3 105.4,182.2 104.3,182.6 103.2,183.6 102.1,184.1 100.9,184.4 99.5,184.4 98.7,184.1 97.4,183.2 96.1,183.1 94.7,182.5 93.5,181.7 92.6,180.7 91.6,179.5 90.5,178.4 89.4,177.5 88.9,176.3 88.4,175.1 87.0,174.7 85.8,174.2 85.6,172.7 86.2,171.0 85.8,169.6 84.6,168.4 83.9,167.1 83.4,166.0 82.9,164.9 82.6,163.7 81.9,162.6 81.1,161.5 81.0,160.0 80.9,158.5 80.4,157.2 80.3,155.5 81.5,154.2 81.9,152.8 81.4,151.3 81.3,150.0 80.9,148.7 80.1,147.7 79.6,146.5 79.3,145.2 78.2,144.4 77.2,143.5 76.6,142.4 75.9,141.3 75.5,140.0 75.5,138.4 75.1,137.0 74.2,135.9 72.9,135.1 71.8,134.0 71.1,132.5 70.4,131.0 70.0,129.3 69.6,127.5 68.3,126.5 66.8,125.7 65.6,124.7 64.7,123.4 63.5,122.3 62.1,121.4 61.2,120.1 60.2,118.8 59.0,117.6 58.2,116.4 57.5,114.8 56.8,113.1 55.9,112.2 54.8,111.7 53.7,111.0 52.7,110.3 51.4,109.9 50.2,109.5 49.3,108.3 48.3,107.5 46.8,106.6 45.8,105.2 44.9,104.3 43.5,104.0 42.7,103.2 41.3,102.3 39.9,101.4 38.4,100.4 36.8,99.8 35.4,98.8 34.2,97.7 33.2,96.4 32.0,95.5" fill="none" stroke="#cc1010" stroke-width="2.3" stroke-linejoin="round"/>
</g>
<line x1="34" y1="89.5" x2="204.8" y2="89.5" stroke="#1652b8" stroke-width="1.25"/>
<line x1="81" y1="158.5" x2="233.2" y2="158.5" stroke="#1652b8" stroke-width="1.25"/>
<line x1="193.6" y1="260.1" x2="215" y2="260.1" stroke="#1652b8" stroke-width="1.25"/>
<line x1="101.0" y1="59.8" x2="215.8" y2="281" stroke="#1652b8" stroke-width="1.25"/>
<text x="28.6" y="82.2" font-size="16" text-anchor="start" >A</text>
<text x="209.8" y="89.4" font-size="16" text-anchor="start" >B</text>
<text x="65.3" y="162.8" font-size="16" text-anchor="start" >C</text>
<text x="234.3" y="159.4" font-size="16" text-anchor="start" >D</text>
<text x="175.6" y="267.4" font-size="16" text-anchor="start" >E</text>
<text x="221.6" y="259.6" font-size="16" text-anchor="start" >F</text>
<text x="216.3" y="299.6" font-size="16" text-anchor="start" >G</text>
<text x="96.0" y="57.7" font-size="16" text-anchor="start" >H</text>
<line x1="228.9" y1="41.8" x2="221.3" y2="68" stroke="#b0b0b0" stroke-width="0.7"/>
<line x1="228.9" y1="41.8" x2="238.2" y2="68.6" stroke="#1a1a1a" stroke-width="1.1"/>
<polyline points="221.3,68.3 228.8,65.6" fill="none" stroke="#1a1a1a" stroke-width="1.9" stroke-linecap="round"/>
<polyline points="228.8,65.6 238.2,68.7" fill="none" stroke="#1a1a1a" stroke-width="1.3"/>
<text x="229.7" y="79.5" font-size="11.6" text-anchor="middle" style="font-family:'Liberation Sans',sans-serif;stroke-width:0.45px">N</text>
<text transform="translate(31.4,191.9) scale(1,1.02)" font-size="16" text-anchor="start" >Elevation</text>
<text transform="translate(31.4,210.6) scale(1,1.02)" font-size="16" text-anchor="start" >difference (m)</text>
<rect x="31.1" y="219" width="16" height="16" fill="rgb(84,194,92)"/>
<rect x="31.1" y="237.4" width="16" height="15.6" fill="rgb(246,236,104)"/>
<rect x="31.1" y="255" width="16" height="16.5" fill="rgb(255,118,118)"/>
<text x="59" y="233" font-size="16" text-anchor="start" >&lt; ± 20</text>
<text x="59" y="251" font-size="16" text-anchor="start" >± 20 ~ ± 40</text>
<text x="59" y="269" font-size="16" text-anchor="start" >&gt; ± 40</text>
<rect x="31" y="289.5" width="79" height="7.5" fill="#fff" stroke="#1a1a1a" stroke-width="1"/>
<text x="71" y="287" font-size="16" text-anchor="middle" >30</text>
<text x="112" y="297" font-size="16" text-anchor="start" >km</text>
<rect x="329.2" y="14.5" width="214.7" height="46.9" fill="none" stroke="#000" stroke-width="1.15"/>
<line x1="329.2" y1="14.5" x2="333.2" y2="14.5" stroke="#1a1a1a" stroke-width="1"/>
<text transform="translate(318.2,19.1) scale(1,1.12)" font-size="12.5" text-anchor="end" letter-spacing="0.35">1400</text>
<line x1="329.2" y1="38" x2="333.2" y2="38" stroke="#1a1a1a" stroke-width="1"/>
<text transform="translate(318.2,42.6) scale(1,1.12)" font-size="12.5" text-anchor="end" letter-spacing="0.35">1250</text>
<line x1="329.2" y1="61.4" x2="333.2" y2="61.4" stroke="#1a1a1a" stroke-width="1"/>
<text transform="translate(318.2,66.0) scale(1,1.12)" font-size="12.5" text-anchor="end" letter-spacing="0.35">1100</text>
<line x1="329.2" y1="61.4" x2="329.2" y2="57.4" stroke="#1a1a1a" stroke-width="1"/>
<line x1="363.2" y1="61.4" x2="363.2" y2="57.4" stroke="#1a1a1a" stroke-width="1"/>
<line x1="397.3" y1="61.4" x2="397.3" y2="57.4" stroke="#1a1a1a" stroke-width="1"/>
<line x1="431.4" y1="61.4" x2="431.4" y2="57.4" stroke="#1a1a1a" stroke-width="1"/>
<line x1="465.4" y1="61.4" x2="465.4" y2="57.4" stroke="#1a1a1a" stroke-width="1"/>
<line x1="499.5" y1="61.4" x2="499.5" y2="57.4" stroke="#1a1a1a" stroke-width="1"/>
<line x1="533.5" y1="61.4" x2="533.5" y2="57.4" stroke="#1a1a1a" stroke-width="1"/>
<text transform="translate(330.9,73.3) scale(1,1.12)" font-size="12.5" text-anchor="middle" letter-spacing="0.35">0</text>
<text transform="translate(361.8,73.3) scale(1,1.12)" font-size="12.5" text-anchor="middle" letter-spacing="0.35">10</text>
<text transform="translate(398.0,73.3) scale(1,1.12)" font-size="12.5" text-anchor="middle" letter-spacing="0.35">20</text>
<text transform="translate(429.8,73.3) scale(1,1.12)" font-size="12.5" text-anchor="middle" letter-spacing="0.35">30</text>
<text transform="translate(461.8,73.3) scale(1,1.12)" font-size="12.5" text-anchor="middle" letter-spacing="0.35">40</text>
<text transform="translate(499.5,73.3) scale(1,1.12)" font-size="12.5" text-anchor="middle" letter-spacing="0.35">50</text>
<text transform="translate(535.7,73.3) scale(1,1.12)" font-size="12.5" text-anchor="middle" letter-spacing="0.35">60</text>
<path d="M332.0,27.0 C332.6,27.9 334.8,31.6 335.9,32.7 C337.0,33.8 337.8,33.5 338.8,33.5 C339.8,33.5 341.0,32.7 341.7,32.7 C342.4,32.7 342.3,32.2 343.1,33.5 C343.9,34.8 345.6,39.0 346.7,40.7 C347.8,42.4 348.5,43.5 349.6,43.5 C350.7,43.5 352.1,41.0 353.2,40.7 C354.3,40.4 355.1,41.5 356.1,41.7 C357.1,41.9 357.9,41.2 359.0,42.1 C360.1,43.0 361.5,46.0 362.6,47.1 C363.7,48.2 364.3,48.5 365.5,48.9 C366.7,49.3 368.4,49.2 369.8,49.3 C371.2,49.4 372.5,49.7 374.1,49.7 C375.7,49.7 377.6,49.9 379.2,49.3 C380.8,48.7 382.3,46.3 383.5,46.0 C384.7,45.7 385.3,47.2 386.4,47.4 C387.5,47.6 388.7,46.5 390.0,47.4 C391.3,48.3 393.1,52.3 394.3,52.9 C395.5,53.5 396.1,51.5 397.2,50.7 C398.3,49.9 399.6,49.1 400.9,48.3 C402.2,47.5 404.1,46.1 405.2,46.0 C406.3,45.9 406.4,46.0 407.4,47.4 C408.4,48.8 409.9,54.0 411.0,54.3 C412.1,54.6 412.8,49.9 413.9,49.3 C415.0,48.7 416.3,50.8 417.5,50.7 C418.7,50.6 419.9,50.3 421.1,48.6 C422.3,46.9 423.5,40.8 424.7,40.7 C425.9,40.6 426.8,47.4 428.3,47.9 C429.9,48.4 432.6,43.8 434.0,43.5 C435.4,43.2 435.9,44.8 436.9,46.4 C437.9,48.0 438.9,50.5 439.8,52.9 C440.7,55.3 441.2,60.1 442.0,60.8 C442.8,61.5 443.9,58.6 444.8,57.2 C445.8,55.8 446.6,52.6 447.7,52.2 C448.8,51.9 450.1,56.1 451.3,55.1 C452.5,54.1 453.9,47.1 454.9,46.4 C455.9,45.7 456.1,49.2 457.1,50.7 C458.1,52.2 459.6,54.9 460.7,55.1 C461.8,55.4 462.5,54.4 463.6,52.2 C464.7,50.0 465.9,44.4 467.2,42.1 C468.5,39.8 470.2,37.1 471.6,38.2 C473.0,39.3 474.2,48.8 475.5,48.6 C476.8,48.5 478.1,38.0 479.2,37.3 C480.3,36.6 481.4,42.9 482.4,44.5 C483.4,46.1 484.1,47.4 485.3,46.9 C486.5,46.4 487.9,44.0 489.6,41.4 C491.3,38.8 494.1,32.4 495.4,31.3 C496.7,30.2 496.4,32.6 497.5,34.9 C498.6,37.2 500.8,43.7 501.9,45.0 C503.0,46.3 503.2,44.5 504.0,42.8 C504.8,41.1 505.8,35.5 506.6,34.9 C507.5,34.3 508.2,38.1 509.1,39.2 C510.0,40.3 510.9,40.0 512.0,41.4 C513.1,42.8 514.5,46.5 515.6,47.9 C516.7,49.3 517.2,50.0 518.4,50.0 C519.6,50.0 521.6,48.0 522.8,47.9 C524.0,47.8 524.4,48.1 525.6,49.3 C526.8,50.5 528.5,54.6 530.0,55.1 C531.5,55.6 532.6,53.1 534.3,52.2 C536.0,51.4 538.7,51.0 540.0,50.0 C541.3,49.0 541.6,48.4 542.2,46.4 C542.8,44.4 543.4,39.2 543.6,37.8" fill="none" stroke="#1fb34a" stroke-width="1.4" stroke-linejoin="round"/>
<path d="M332.0,22.4 C332.6,23.4 334.8,27.4 335.9,28.4 C337.0,29.4 337.8,28.8 338.8,28.4 C339.8,28.0 341.0,26.3 341.7,26.2 C342.4,26.1 342.3,26.2 343.1,27.7 C343.9,29.1 345.5,33.6 346.7,34.9 C347.9,36.2 349.2,35.3 350.3,35.3 C351.4,35.3 352.2,34.6 353.2,34.9 C354.2,35.2 355.1,36.6 356.1,37.0 C357.1,37.4 358.2,36.7 359.0,37.3 C359.8,37.9 360.3,39.4 361.1,40.7 C361.9,42.0 363.1,44.2 364.0,45.0 C364.9,45.8 365.2,45.0 366.2,45.4 C367.2,45.8 368.5,47.1 369.8,47.4 C371.1,47.7 372.5,47.6 374.1,47.4 C375.7,47.2 377.6,47.0 379.2,46.4 C380.8,45.8 382.3,43.8 383.5,43.5 C384.7,43.2 385.3,44.4 386.4,44.5 C387.5,44.6 388.7,43.6 390.0,44.0 C391.3,44.4 393.1,46.7 394.3,47.1 C395.5,47.5 396.1,47.0 397.2,46.4 C398.3,45.8 399.6,44.2 400.9,43.5 C402.2,42.8 404.1,42.0 405.2,42.1 C406.3,42.2 406.6,42.9 407.4,44.3 C408.2,45.7 409.4,50.4 410.2,50.7 C411.0,51.1 411.7,47.7 412.4,46.4 C413.1,45.1 413.8,43.3 414.6,43.1 C415.5,42.9 416.6,45.2 417.5,45.4 C418.4,45.6 419.2,45.6 420.3,44.3 C421.4,43.0 422.8,38.6 423.9,37.8 C425.0,37.0 425.8,39.0 426.8,39.6 C427.8,40.2 428.6,41.2 429.7,41.4 C430.8,41.6 432.2,40.5 433.3,40.7 C434.4,40.9 435.2,41.2 436.2,42.8 C437.2,44.3 438.1,47.6 439.1,50.0 C440.1,52.4 441.1,56.8 442.0,57.2 C442.9,57.6 443.9,53.6 444.8,52.2 C445.8,50.8 446.6,49.0 447.7,48.6 C448.8,48.2 450.1,51.0 451.3,50.0 C452.5,49.0 453.9,43.4 454.9,42.8 C455.9,42.2 456.2,44.8 457.1,46.4 C458.0,48.0 459.1,52.1 460.0,52.6 C460.9,53.1 461.9,51.3 462.8,49.3 C463.8,47.3 464.8,42.1 465.7,40.7 C466.6,39.3 467.0,41.3 468.0,40.7 C469.0,40.1 470.6,37.1 471.6,37.3 C472.6,37.5 473.1,40.3 473.8,42.1 C474.5,43.9 475.0,48.8 475.9,47.9 C476.8,47.0 478.3,38.0 479.2,36.8 C480.1,35.6 480.2,39.4 481.0,40.7 C481.8,42.0 482.9,44.1 483.9,44.5 C484.8,44.9 485.5,44.2 486.7,42.8 C487.9,41.4 489.7,38.3 491.1,36.3 C492.6,34.3 494.3,31.2 495.4,30.6 C496.5,30.0 496.7,30.8 497.5,32.7 C498.3,34.6 499.5,40.2 500.4,42.1 C501.2,44.0 501.9,44.9 502.6,44.3 C503.3,43.7 504.0,40.6 504.7,38.5 C505.4,36.4 506.0,32.4 506.6,31.6 C507.2,30.8 507.8,32.4 508.3,33.5 C508.8,34.6 509.1,37.4 509.8,38.5 C510.5,39.6 511.7,38.6 512.7,39.9 C513.7,41.2 514.8,45.0 515.6,46.4 C516.4,47.8 516.5,48.8 517.7,48.3 C518.9,47.8 521.5,43.8 522.8,43.5 C524.1,43.2 524.4,44.9 525.6,46.4 C526.8,47.9 528.7,51.7 530.0,52.2 C531.3,52.7 532.1,50.3 533.6,49.3 C535.1,48.3 538.0,47.2 539.3,46.4 C540.6,45.6 540.8,46.0 541.5,44.3 C542.2,42.6 543.2,37.6 543.6,36.3" fill="none" stroke="#8a3cba" stroke-width="1.4" stroke-linejoin="round"/>
<text transform="translate(329.7,12.1) scale(1,1.08)" font-size="12" text-anchor="start" >A</text>
<text transform="translate(543.4,12.1) scale(1,1.08)" font-size="12" text-anchor="end" >B</text>
<rect x="329.4" y="85.6" width="191.3" height="46.7" fill="none" stroke="#000" stroke-width="1.15"/>
<line x1="329.4" y1="85.6" x2="333.4" y2="85.6" stroke="#1a1a1a" stroke-width="1"/>
<text transform="translate(318.4,90.19999999999999) scale(1,1.12)" font-size="12.5" text-anchor="end" letter-spacing="0.35">1250</text>
<line x1="329.4" y1="109" x2="333.4" y2="109" stroke="#1a1a1a" stroke-width="1"/>
<text transform="translate(318.4,113.6) scale(1,1.12)" font-size="12.5" text-anchor="end" letter-spacing="0.35">1100</text>
<line x1="329.4" y1="132.3" x2="333.4" y2="132.3" stroke="#1a1a1a" stroke-width="1"/>
<text transform="translate(318.4,136.9) scale(1,1.12)" font-size="12.5" text-anchor="end" letter-spacing="0.35">950</text>
<line x1="329.5" y1="132.3" x2="329.5" y2="128.3" stroke="#1a1a1a" stroke-width="1"/>
<line x1="363.0" y1="132.3" x2="363.0" y2="128.3" stroke="#1a1a1a" stroke-width="1"/>
<line x1="396.6" y1="132.3" x2="396.6" y2="128.3" stroke="#1a1a1a" stroke-width="1"/>
<line x1="430.1" y1="132.3" x2="430.1" y2="128.3" stroke="#1a1a1a" stroke-width="1"/>
<line x1="463.7" y1="132.3" x2="463.7" y2="128.3" stroke="#1a1a1a" stroke-width="1"/>
<line x1="497.2" y1="132.3" x2="497.2" y2="128.3" stroke="#1a1a1a" stroke-width="1"/>
<text transform="translate(330.59999999999997,144.20000000000002) scale(1,1.12)" font-size="12.5" text-anchor="middle" letter-spacing="0.35">0</text>
<text transform="translate(362.2,144.20000000000002) scale(1,1.12)" font-size="12.5" text-anchor="middle" letter-spacing="0.35">10</text>
<text transform="translate(398.0,144.20000000000002) scale(1,1.12)" font-size="12.5" text-anchor="middle" letter-spacing="0.35">20</text>
<text transform="translate(429.7,144.20000000000002) scale(1,1.12)" font-size="12.5" text-anchor="middle" letter-spacing="0.35">30</text>
<text transform="translate(464.59999999999997,144.20000000000002) scale(1,1.12)" font-size="12.5" text-anchor="middle" letter-spacing="0.35">40</text>
<text transform="translate(499.5,144.20000000000002) scale(1,1.12)" font-size="12.5" text-anchor="middle" letter-spacing="0.35">50</text>
<path d="M332.2,85.4 C332.5,86.0 333.1,87.4 333.8,89.0 C334.5,90.6 335.2,94.3 336.1,94.8 C337.0,95.3 338.4,92.3 339.3,92.1 C340.2,91.9 340.7,93.5 341.6,93.7 C342.5,93.9 343.8,92.9 344.7,93.2 C345.6,93.5 346.1,93.7 347.1,95.3 C348.2,96.9 349.7,101.4 351.0,103.1 C352.3,104.8 353.6,104.9 354.9,105.4 C356.2,105.9 357.5,106.5 358.8,106.2 C360.1,106.0 361.4,105.2 362.7,103.9 C364.0,102.6 365.3,99.1 366.6,98.4 C367.9,97.8 369.2,99.7 370.5,100.0 C371.8,100.3 373.1,99.6 374.4,100.4 C375.7,101.2 377.3,103.4 378.3,104.6 C379.3,105.8 379.7,107.8 380.6,107.8 C381.5,107.8 382.8,106.3 383.8,104.6 C384.9,102.9 385.9,98.4 386.9,97.6 C387.9,96.8 389.0,100.4 390.0,100.0 C391.0,99.6 391.9,95.3 392.8,95.3 C393.7,95.3 394.6,98.5 395.5,100.0 C396.4,101.5 397.2,103.5 398.0,104.6 C398.8,105.7 399.4,105.0 400.3,106.7 C401.2,108.4 402.5,114.8 403.5,114.8 C404.5,114.8 405.1,105.6 406.1,107.0 C407.1,108.4 408.6,120.9 409.7,123.4 C410.8,125.9 411.6,121.4 412.8,121.8 C414.0,122.2 415.3,126.8 416.7,126.0 C418.1,125.2 419.8,119.4 421.4,117.1 C423.0,114.8 424.7,111.0 426.1,112.4 C427.5,113.8 428.4,125.4 430.0,125.7 C431.6,126.0 433.9,117.1 435.5,114.0 C437.1,110.9 437.8,107.5 439.4,107.0 C440.9,106.5 443.0,111.8 444.8,110.9 C446.6,110.0 448.9,100.7 450.3,101.5 C451.7,102.3 452.4,113.9 453.4,115.6 C454.4,117.3 455.3,110.9 456.5,111.7 C457.7,112.5 458.8,120.6 460.5,120.3 C462.2,120.0 465.1,111.7 466.7,110.1 C468.3,108.5 468.8,110.9 469.9,110.9 C470.9,110.9 471.8,109.8 473.0,110.1 C474.2,110.4 475.6,114.0 476.9,112.5 C478.2,111.0 479.8,103.1 480.8,100.8 C481.9,98.5 482.4,99.0 483.2,98.9 C484.0,98.8 484.7,99.4 485.5,100.0 C486.3,100.6 487.1,101.8 487.9,102.3 C488.7,102.8 489.5,101.9 490.2,103.1 C490.9,104.3 491.1,106.8 491.8,109.3 C492.5,111.8 493.3,117.5 494.1,118.3 C494.9,119.1 495.7,114.4 496.5,114.0 C497.3,113.6 498.1,115.3 498.8,116.1 C499.5,116.9 499.8,119.7 500.7,118.7 C501.6,117.7 503.1,112.4 504.3,110.1 C505.6,107.8 507.2,106.8 508.2,104.7 C509.2,102.6 509.9,98.6 510.5,97.6 C511.1,96.6 511.5,98.0 512.1,98.9 C512.8,99.8 513.5,103.2 514.4,103.1 C515.3,103.0 516.5,100.2 517.6,98.4 C518.7,96.7 520.2,93.6 520.7,92.6" fill="none" stroke="#1fb34a" stroke-width="1.4" stroke-linejoin="round"/>
<path d="M332.2,85.4 C332.5,85.9 333.1,87.0 333.8,88.2 C334.5,89.5 335.2,92.8 336.1,92.9 C337.0,93.0 338.4,89.4 339.3,89.0 C340.2,88.6 340.7,90.4 341.6,90.6 C342.5,90.8 343.8,89.7 344.7,90.1 C345.6,90.5 346.1,91.2 347.1,92.9 C348.2,94.6 349.7,98.3 351.0,100.0 C352.3,101.7 353.6,102.4 354.9,103.1 C356.2,103.8 357.5,104.2 358.8,103.9 C360.1,103.6 361.4,102.9 362.7,101.5 C364.0,100.1 365.6,96.0 366.6,95.3 C367.6,94.6 368.0,97.2 368.9,97.6 C369.8,98.0 371.1,97.3 372.1,97.6 C373.2,97.9 374.2,98.2 375.2,99.2 C376.2,100.2 377.4,102.6 378.3,103.9 C379.2,105.2 379.7,107.0 380.6,107.0 C381.5,107.0 382.8,105.6 383.8,103.9 C384.9,102.2 385.9,97.8 386.9,96.8 C387.9,95.8 389.0,98.1 390.0,97.6 C391.0,97.1 391.9,93.7 392.8,93.7 C393.7,93.7 394.6,95.9 395.5,97.6 C396.4,99.3 397.2,102.6 398.0,103.9 C398.8,105.2 399.4,104.0 400.3,105.4 C401.2,106.8 402.5,112.3 403.5,112.4 C404.5,112.5 405.5,106.9 406.1,106.2 C406.8,105.5 406.8,106.0 407.4,108.5 C408.0,111.0 408.8,119.2 409.7,121.0 C410.6,122.8 411.6,119.0 412.8,119.5 C414.0,120.0 415.3,124.3 416.7,123.8 C418.1,123.3 419.8,118.4 421.4,116.3 C423.0,114.2 424.7,110.2 426.1,111.4 C427.5,112.6 428.4,123.2 430.0,123.4 C431.6,123.6 433.8,115.6 435.5,112.4 C437.2,109.2 438.6,105.0 440.2,104.2 C441.8,103.4 443.1,108.4 444.8,107.8 C446.5,107.2 448.9,99.4 450.3,100.4 C451.7,101.4 452.4,112.2 453.4,114.0 C454.4,115.8 455.3,110.6 456.5,110.9 C457.7,111.2 458.8,116.1 460.5,115.6 C462.2,115.1 465.1,108.6 466.7,107.8 C468.3,107.0 468.8,110.7 469.9,110.9 C470.9,111.2 471.8,110.3 473.0,109.3 C474.2,108.3 475.6,106.5 476.9,104.7 C478.2,102.9 479.8,99.8 480.8,98.4 C481.9,97.0 482.4,96.4 483.2,96.4 C484.0,96.4 484.7,97.5 485.5,98.4 C486.3,99.3 487.1,101.3 487.9,102.0 C488.7,102.7 489.5,101.3 490.2,102.3 C490.9,103.3 491.1,105.6 491.8,107.8 C492.5,110.0 493.3,114.8 494.1,115.6 C494.9,116.4 495.7,112.6 496.5,112.5 C497.3,112.4 498.1,113.8 498.8,114.8 C499.5,115.8 499.8,119.6 500.7,118.7 C501.6,117.8 503.1,111.8 504.3,109.3 C505.6,106.8 507.0,106.0 508.2,103.9 C509.4,101.8 510.3,98.1 511.3,96.8 C512.3,95.5 513.4,96.1 514.4,96.1 C515.4,96.1 516.5,97.5 517.6,96.8 C518.7,96.1 520.2,92.5 520.7,91.7" fill="none" stroke="#8a3cba" stroke-width="1.4" stroke-linejoin="round"/>
<text transform="translate(329.9,83.19999999999999) scale(1,1.08)" font-size="12" text-anchor="start" >C</text>
<text transform="translate(520.2,83.19999999999999) scale(1,1.08)" font-size="12" text-anchor="end" >D</text>
<rect x="329.3" y="159.3" width="19.1" height="46.3" fill="none" stroke="#000" stroke-width="1.15"/>
<line x1="329.3" y1="159.3" x2="333.3" y2="159.3" stroke="#1a1a1a" stroke-width="1"/>
<text transform="translate(318.3,163.9) scale(1,1.12)" font-size="12.5" text-anchor="end" letter-spacing="0.35">1150</text>
<line x1="329.3" y1="182.4" x2="333.3" y2="182.4" stroke="#1a1a1a" stroke-width="1"/>
<text transform="translate(318.3,187.0) scale(1,1.12)" font-size="12.5" text-anchor="end" letter-spacing="0.35">1000</text>
<line x1="329.3" y1="205.6" x2="333.3" y2="205.6" stroke="#1a1a1a" stroke-width="1"/>
<text transform="translate(318.3,210.2) scale(1,1.12)" font-size="12.5" text-anchor="end" letter-spacing="0.35">850</text>
<path d="M331.6,190.1 C331.9,191.1 332.8,194.8 333.4,195.9 C334.0,197.1 334.5,197.6 335.0,197.0 C335.5,196.4 336.0,194.1 336.6,192.4 C337.2,190.7 337.9,186.8 338.5,186.6 C339.1,186.4 339.5,192.9 340.3,191.2 C341.1,189.5 342.2,177.9 343.1,176.2 C344.0,174.5 344.5,180.8 345.4,180.8 C346.3,180.8 347.9,177.0 348.4,176.2" fill="none" stroke="#1fb34a" stroke-width="1.4" stroke-linejoin="round"/>
<path d="M331.6,194.7 C331.9,195.7 332.8,199.3 333.4,200.5 C334.0,201.7 334.5,202.2 335.0,201.6 C335.5,201.0 336.0,198.9 336.6,197.0 C337.2,195.1 337.9,190.7 338.5,190.1 C339.1,189.5 339.5,194.6 340.3,193.6 C341.1,192.6 342.2,185.7 343.1,184.3 C344.0,183.0 344.5,186.3 345.4,185.5 C346.3,184.7 347.9,180.2 348.4,179.2" fill="none" stroke="#8a3cba" stroke-width="1.4" stroke-linejoin="round"/>
<text transform="translate(328.0,156.9) scale(1,1.08)" font-size="12" text-anchor="start" >E</text>
<text transform="translate(351.0,156.9) scale(1,1.08)" font-size="12" text-anchor="end" >F</text>
<rect x="329.0" y="233.2" width="214.2" height="70.3" fill="none" stroke="#000" stroke-width="1.15"/>
<line x1="329.0" y1="240.3" x2="333.0" y2="240.3" stroke="#1a1a1a" stroke-width="1"/>
<text transform="translate(318.0,244.9) scale(1,1.12)" font-size="12.5" text-anchor="end" letter-spacing="0.35">1250</text>
<line x1="329.0" y1="261.4" x2="333.0" y2="261.4" stroke="#1a1a1a" stroke-width="1"/>
<text transform="translate(318.0,266.0) scale(1,1.12)" font-size="12.5" text-anchor="end" letter-spacing="0.35">1100</text>
<line x1="329.0" y1="282.5" x2="333.0" y2="282.5" stroke="#1a1a1a" stroke-width="1"/>
<text transform="translate(318.0,287.1) scale(1,1.12)" font-size="12.5" text-anchor="end" letter-spacing="0.35">950</text>
<line x1="329.0" y1="303.5" x2="333.0" y2="303.5" stroke="#1a1a1a" stroke-width="1"/>
<text transform="translate(318.0,308.1) scale(1,1.12)" font-size="12.5" text-anchor="end" letter-spacing="0.35">800</text>
<line x1="328.1" y1="303.5" x2="328.1" y2="299.5" stroke="#1a1a1a" stroke-width="1"/>
<line x1="350.4" y1="303.5" x2="350.4" y2="299.5" stroke="#1a1a1a" stroke-width="1"/>
<line x1="372.6" y1="303.5" x2="372.6" y2="299.5" stroke="#1a1a1a" stroke-width="1"/>
<line x1="394.9" y1="303.5" x2="394.9" y2="299.5" stroke="#1a1a1a" stroke-width="1"/>
<line x1="417.1" y1="303.5" x2="417.1" y2="299.5" stroke="#1a1a1a" stroke-width="1"/>
<line x1="439.3" y1="303.5" x2="439.3" y2="299.5" stroke="#1a1a1a" stroke-width="1"/>
<line x1="461.6" y1="303.5" x2="461.6" y2="299.5" stroke="#1a1a1a" stroke-width="1"/>
<line x1="483.8" y1="303.5" x2="483.8" y2="299.5" stroke="#1a1a1a" stroke-width="1"/>
<line x1="506.1" y1="303.5" x2="506.1" y2="299.5" stroke="#1a1a1a" stroke-width="1"/>
<line x1="528.3" y1="303.5" x2="528.3" y2="299.5" stroke="#1a1a1a" stroke-width="1"/>
<text transform="translate(328.9,315.4) scale(1,1.12)" font-size="12.5" text-anchor="middle" letter-spacing="0.35">0</text>
<text transform="translate(351.8,315.4) scale(1,1.12)" font-size="12.5" text-anchor="middle" letter-spacing="0.35">10</text>
<text transform="translate(373.59999999999997,315.4) scale(1,1.12)" font-size="12.5" text-anchor="middle" letter-spacing="0.35">20</text>
<text transform="translate(396.0,315.4) scale(1,1.12)" font-size="12.5" text-anchor="middle" letter-spacing="0.35">30</text>
<text transform="translate(418.4,315.4) scale(1,1.12)" font-size="12.5" text-anchor="middle" letter-spacing="0.35">40</text>
<text transform="translate(440.59999999999997,315.4) scale(1,1.12)" font-size="12.5" text-anchor="middle" letter-spacing="0.35">50</text>
<text transform="translate(463.2,315.4) scale(1,1.12)" font-size="12.5" text-anchor="middle" letter-spacing="0.35">60</text>
<text transform="translate(485.9,315.4) scale(1,1.12)" font-size="12.5" text-anchor="middle" letter-spacing="0.35">70</text>
<text transform="translate(508.2,315.4) scale(1,1.12)" font-size="12.5" text-anchor="middle" letter-spacing="0.35">80</text>
<text transform="translate(530.6,315.4) scale(1,1.12)" font-size="12.5" text-anchor="middle" letter-spacing="0.35">90</text>
<path d="M329.4,272.9 C330.0,273.4 331.9,274.7 332.9,275.7 C333.8,276.7 334.4,276.6 335.1,279.1 C335.9,281.6 336.6,288.3 337.4,290.5 C338.2,292.7 338.8,292.5 339.7,292.1 C340.6,291.7 342.0,291.1 343.1,288.2 C344.2,285.3 345.2,276.0 346.1,274.5 C347.1,273.0 347.8,278.0 348.8,279.1 C349.8,280.2 351.2,282.0 352.3,281.4 C353.4,280.8 354.3,276.6 355.2,275.7 C356.1,274.8 356.9,277.2 357.5,276.1 C358.1,275.0 358.5,268.4 359.1,269.3 C359.8,270.2 360.6,279.9 361.4,281.4 C362.2,282.8 362.5,277.6 363.7,278.0 C364.9,278.4 366.8,282.2 368.3,283.7 C369.8,285.2 371.3,286.1 372.8,287.1 C374.3,288.1 375.9,290.2 377.4,289.8 C378.9,289.4 380.5,287.5 382.0,284.8 C383.5,282.1 385.4,274.3 386.5,273.4 C387.6,272.4 388.0,279.2 388.8,279.1 C389.6,279.0 390.2,273.7 391.1,272.9 C392.1,272.1 393.4,273.6 394.5,274.5 C395.6,275.4 397.1,276.6 398.0,278.0 C398.9,279.4 399.1,283.9 399.8,283.0 C400.5,282.1 401.3,273.1 402.1,272.3 C402.9,271.5 403.8,277.8 404.4,278.0 C405.0,278.2 405.5,273.2 406.0,273.4 C406.5,273.6 406.8,279.5 407.6,279.1 C408.4,278.7 409.7,270.8 410.6,271.1 C411.5,271.4 412.1,279.0 412.8,280.7 C413.6,282.4 414.5,282.2 415.1,281.4 C415.8,280.6 416.1,276.2 416.7,275.7 C417.3,275.2 418.1,276.8 418.6,278.4 C419.1,280.0 419.1,284.7 419.7,285.3 C420.3,285.9 421.1,282.5 422.0,282.1 C422.9,281.7 424.1,283.4 425.4,283.0 C426.7,282.6 428.1,281.0 430.0,279.8 C431.9,278.6 434.5,276.9 436.8,275.7 C439.1,274.5 441.2,273.8 443.7,272.9 C446.2,271.9 449.4,270.8 451.7,270.0 C454.0,269.2 456.1,268.2 457.4,268.4 C458.7,268.6 458.9,271.5 459.7,271.1 C460.5,270.7 461.1,267.3 462.0,266.1 C462.9,264.9 464.3,263.7 465.4,263.8 C466.5,263.9 468.0,266.1 468.8,266.5 C469.6,266.9 469.2,266.3 470.0,266.1 C470.8,265.9 472.4,265.9 473.4,265.4 C474.3,264.9 475.0,263.9 475.7,263.1 C476.4,262.3 476.5,260.4 477.3,260.8 C478.1,261.2 479.2,264.4 480.3,265.4 C481.4,266.3 482.4,266.3 483.7,266.5 C485.0,266.7 486.8,266.4 488.3,266.5 C489.8,266.6 491.7,268.8 492.8,267.0 C493.9,265.2 493.8,257.8 494.7,255.6 C495.6,253.4 497.3,253.9 498.5,254.0 C499.7,254.1 500.9,256.9 502.0,256.3 C503.1,255.7 504.3,251.3 505.4,250.5 C506.5,249.7 507.5,251.4 508.8,251.7 C510.1,252.0 511.9,251.6 513.4,252.4 C514.9,253.2 516.4,256.8 517.5,256.3 C518.6,255.8 519.3,251.3 520.2,249.4 C521.1,247.5 522.2,244.9 523.0,244.8 C523.8,244.7 524.1,248.8 524.8,248.7 C525.5,248.6 526.4,245.1 527.1,244.2 C527.8,243.3 528.1,242.1 528.9,243.2 C529.6,244.3 530.7,249.6 531.6,251.0 C532.5,252.4 533.4,252.5 534.4,251.7 C535.4,250.9 536.5,247.8 537.4,246.0 C538.3,244.2 538.7,242.2 539.6,241.0 C540.5,239.8 542.1,239.4 542.6,239.1" fill="none" stroke="#1fb34a" stroke-width="1.4" stroke-linejoin="round"/>
<path d="M329.4,279.1 C330.0,279.3 331.9,279.0 332.9,280.3 C333.8,281.6 334.4,284.6 335.1,287.1 C335.8,289.6 336.4,293.5 337.0,295.1 C337.6,296.7 337.8,296.7 338.6,296.7 C339.4,296.7 341.1,296.5 342.0,295.1 C342.9,293.7 343.5,290.7 344.3,288.2 C345.1,285.7 345.9,280.5 346.6,280.3 C347.4,280.1 348.1,285.3 348.8,287.1 C349.5,288.9 350.0,291.8 350.7,291.2 C351.4,290.6 352.2,285.7 353.0,283.7 C353.8,281.7 354.6,279.7 355.2,279.1 C355.8,278.5 356.1,281.4 356.8,280.3 C357.5,279.2 358.3,271.4 359.1,272.3 C359.9,273.2 360.6,284.2 361.4,286.0 C362.2,287.8 362.8,283.2 363.7,283.0 C364.6,282.8 366.0,283.4 367.1,284.8 C368.2,286.2 369.6,290.4 370.5,291.2 C371.4,292.0 371.7,289.9 372.8,289.8 C373.9,289.7 375.9,291.3 377.4,290.5 C378.9,289.7 380.5,287.7 382.0,284.8 C383.5,281.9 385.4,274.0 386.5,273.4 C387.6,272.8 388.0,281.2 388.8,281.4 C389.6,281.6 390.2,275.4 391.1,274.5 C392.1,273.6 393.4,275.5 394.5,275.7 C395.6,275.9 397.1,274.8 398.0,275.7 C398.9,276.6 399.1,282.5 399.8,281.4 C400.5,280.2 401.3,269.8 402.1,268.8 C402.9,267.8 403.8,274.9 404.4,275.2 C405.0,275.5 405.5,270.4 406.0,270.7 C406.5,271.0 406.8,277.4 407.6,276.8 C408.4,276.2 409.7,266.8 410.6,267.0 C411.5,267.2 412.1,276.0 412.8,278.0 C413.6,280.0 414.5,279.8 415.1,279.1 C415.8,278.4 416.1,274.5 416.7,273.9 C417.3,273.3 418.1,274.2 418.6,275.7 C419.1,277.2 419.1,282.4 419.7,283.0 C420.3,283.6 421.1,279.4 422.0,279.1 C422.9,278.8 424.1,281.5 425.4,281.4 C426.7,281.3 428.1,279.6 430.0,278.4 C431.9,277.1 434.5,275.1 436.8,273.9 C439.1,272.7 441.2,272.0 443.7,271.1 C446.2,270.2 449.4,269.1 451.7,268.4 C454.0,267.7 456.1,266.9 457.4,267.0 C458.7,267.1 458.9,269.2 459.7,268.8 C460.5,268.4 461.1,265.4 462.0,264.3 C462.9,263.2 464.3,262.3 465.4,262.4 C466.5,262.5 468.0,264.5 468.8,264.7 C469.6,264.9 469.2,263.9 470.0,263.8 C470.8,263.7 472.4,264.5 473.4,264.2 C474.3,263.9 475.0,262.8 475.7,262.0 C476.4,261.2 476.7,259.2 477.3,259.2 C477.9,259.2 478.2,261.2 479.1,262.0 C480.0,262.8 481.3,263.8 482.6,264.2 C483.9,264.6 485.6,264.5 487.1,264.7 C488.6,264.9 490.8,265.5 491.7,265.4 C492.6,265.3 492.3,266.3 492.8,264.2 C493.3,262.1 493.8,255.1 494.7,252.8 C495.6,250.5 497.5,250.5 498.5,250.5 C499.5,250.5 499.9,253.6 500.8,252.8 C501.8,252.0 503.2,246.9 504.2,245.5 C505.1,244.1 505.5,243.9 506.5,244.2 C507.5,244.5 508.9,246.5 510.0,247.1 C511.1,247.7 512.3,246.9 513.4,247.8 C514.5,248.8 515.8,253.1 516.8,252.8 C517.8,252.5 518.3,247.7 519.1,246.0 C519.9,244.3 520.6,242.5 521.4,242.6 C522.2,242.7 523.0,246.5 523.7,246.4 C524.5,246.3 525.0,242.8 525.9,241.9 C526.8,241.0 528.0,239.9 528.9,241.0 C529.8,242.1 530.4,246.9 531.2,248.3 C532.0,249.7 533.1,250.0 533.9,249.4 C534.7,248.8 535.4,246.7 536.2,244.8 C537.0,242.9 537.7,239.0 538.5,238.0 C539.3,237.0 540.1,239.0 540.8,238.7 C541.5,238.4 542.3,236.8 542.6,236.4" fill="none" stroke="#8a3cba" stroke-width="1.4" stroke-linejoin="round"/>
<text transform="translate(329.5,230.79999999999998) scale(1,1.08)" font-size="12" text-anchor="start" >G</text>
<text transform="translate(542.7,230.79999999999998) scale(1,1.08)" font-size="12" text-anchor="end" >H</text>
<line x1="338.5" y1="205.6" x2="338.5" y2="201.6" stroke="#1a1a1a" stroke-width="1"/>
<text transform="translate(326,219) scale(1,1.12)" font-size="12.5" text-anchor="middle" >0</text>
<text transform="translate(337.5,219) scale(1,1.12)" font-size="12.5" text-anchor="middle" >4</text>
<text transform="translate(348.3,219) scale(1,1.12)" font-size="12.5" text-anchor="middle" >8</text>
<text transform="translate(288.2,169.8) rotate(-90) scale(0.955,1)" font-size="13.1" text-anchor="middle">Profile elevation (m)</text>
<text x="429.7" y="328.4" font-size="12.8" text-anchor="middle" >Distance (km)</text>
<line x1="396" y1="170.5" x2="424.3" y2="170.5" stroke="#8a3cba" stroke-width="1.1"/>
<line x1="396" y1="196.5" x2="424.3" y2="196.5" stroke="#1fb34a" stroke-width="1.1"/>
<text transform="translate(433.6,175.6) scale(1,1.08)" font-size="12.7" text-anchor="start" >ASTER DEM</text>
<text transform="translate(433.6,201) scale(1,1.08)" font-size="12.7" text-anchor="start" >InSAR Refined DEM</text>
</svg></body></html>
